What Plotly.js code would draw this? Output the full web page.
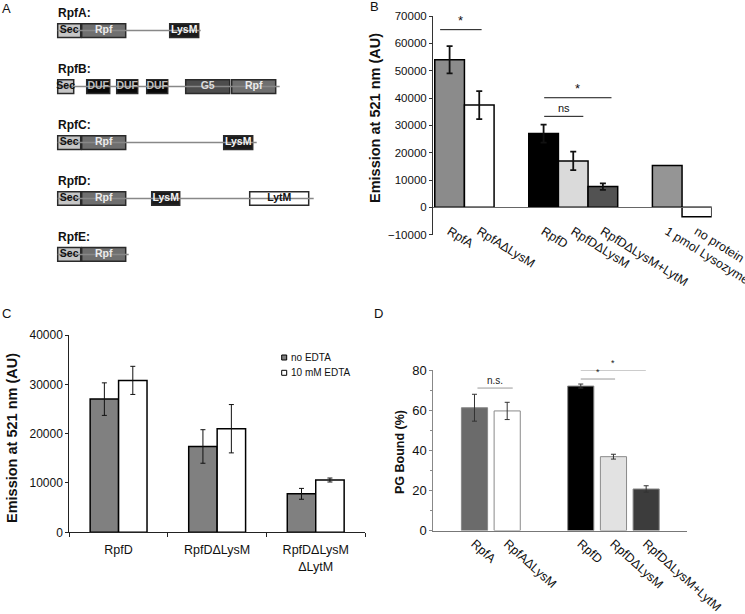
<!DOCTYPE html>
<html><head><meta charset="utf-8">
<script src="https://cdn.plot.ly/plotly-3.0.1.min.js"></script>
<style>html,body{margin:0;padding:0;background:#fff}#chart{width:745px;height:614px}</style>
</head><body><div id="chart"></div>
<script>
// ---------- Panel A: domain architecture ----------
const proteins = ['RpfA:', 'RpfB:', 'RpfC:', 'RpfD:', 'RpfE:'];
const proteinLengths = [143, 222, 199, 256, 71];
const domainProtein = [0,0,0, 1,1,1,1,1,1, 2,2,2, 3,3,3,3, 4,4];
const domainNames = ['Sec','Rpf','LysM', 'Sec','DUF','DUF','DUF','G5','Rpf', 'Sec','Rpf','LysM', 'Sec','Rpf','LysM','LytM', 'Sec','Rpf'];
const domainStart = [0,24,112, 0,29,59,89,128,174, 0,24,166, 0,24,94,192, 0,24];
const domainEnd   = [23,68,141, 16,52,80,110,172,218, 23,68,195, 23,68,122,251, 23,68];

// ---------- Panel B ----------
const bCats = ['RpfA','RpfA\u0394LysM','RpfD','RpfD\u0394LysM','RpfD\u0394LysM+LytM','1 pmol Lysozyme','no protein'];
const bGroup = [0,0,1,1,1,2,2];
const bVals = [54000, 37400, 27000, 17000, 7600, 15300, -3400];
const bErr  = [5000, 5100, 3300, 3400, 1200, null, null];
const bSigLabel = ['*', 'ns', '*'];
const bSigY = [65000, 33300, 40100];
const bSigX0 = [-0.32, 3.19, 3.19];
const bSigX1 = [1.08, 4.51, 5.46];

// ---------- Panel C ----------
const cCats = ['RpfD', 'RpfD\u0394LysM', 'RpfD\u0394LysM<br>\u0394LytM'];
const cNoEDTA = [27000, 17400, 7800];
const cNoEDTAErr = [3300, 3400, 1100];
const cEDTA = [30800, 21000, 10600];
const cEDTAErr = [2850, 4900, 400];
const cSeries = ['no EDTA', '10 mM EDTA'];

// ---------- Panel D ----------
const dCats = ['RpfA','RpfA\u0394LysM','RpfD','RpfD\u0394LysM','RpfD\u0394LysM+LytM'];
const dGroup = [0,0,1,1,1];
const dVals = [61.2, 59.6, 72.0, 36.8, 20.7];
const dErr  = [6.7, 4.3, 1.0, 1.2, 1.6];
const dSigLabel = ['n.s.', '*', '*'];
const dSigY = [71, 75.5, 80];
const dSigX0 = [0.09, 3.25, 3.25];
const dSigX1 = [1.17, 4.3, 5.24];

// ---------- styles ----------
const FONT = 'Liberation Sans, Arial, sans-serif';
const W = 745, H = 614;
const px = v => v / W;
const py = v => 1 - v / H;
const domainFill = {Sec:'#c6c6c6', Rpf:'#6f6f6f', LysM:'#1b1b1b', DUF:'#080808', G5:'#4d4d4d', LytM:'#ffffff'};
const domainText = {Sec:'#111111', Rpf:'#ececec', LysM:'#f2f2f2', DUF:'#bdbdbd', G5:'#dddddd', LytM:'#111111'};
const bColors = ['#8b8b8b','#ffffff','#000000','#dadada','#525252','#959595','#ffffff'];
const dColors = ['#6b6b6b','#ffffff','#000000','#e2e2e2','#3c3c3c'];

const bPos = bCats.map((c, i) => i + bGroup[i] * 1.17);
const dPos = dCats.map((c, i) => i + dGroup[i] * 1.25);

const traces = [];

// Panel A backbone lines
const bbX = [], bbY = [];
proteins.forEach((p, i) => { bbX.push(0, proteinLengths[i], null); bbY.push(i, i, null); });
traces.push({type:'scatter', mode:'lines', x: bbX, y: bbY, xaxis:'x4', yaxis:'y4',
  line:{color:'#888888', width:1.5}, showlegend:false, hoverinfo:'skip'});
// Panel A domain boxes
traces.push({type:'bar', orientation:'h', xaxis:'x4', yaxis:'y4',
  y: domainProtein, base: domainStart, x: domainStart.map((s, i) => domainEnd[i] - s),
  width: 0.245,
  marker:{color: domainNames.map(n => domainFill[n]), line:{color:'#2a2a2a', width:1.5}},
  showlegend:false, hoverinfo:'skip'});
traces.push({type:'scatter', mode:'text', xaxis:'x4', yaxis:'y4',
  x: domainStart.map((s, i) => (s + domainEnd[i]) / 2), y: domainProtein,
  text: domainNames, textposition:'middle center',
  textfont:{family:FONT, size:10.5, weight:'bold', color: domainNames.map(n => domainText[n])},
  showlegend:false, hoverinfo:'skip'});

// Panel B
traces.push({type:'bar', x: bPos, y: bVals, width: 1, xaxis:'x', yaxis:'y',
  marker:{color: bColors, line:{color:'#000', width:1.5}},
  error_y:{type:'data', array: bErr.map(v => v === null ? NaN : v), visible:true, color:'#111', thickness:1.8, width:3},
  showlegend:false, hoverinfo:'skip'});
bSigY.forEach((y, i) => traces.push({type:'scatter', mode:'lines', xaxis:'x', yaxis:'y',
  x:[bSigX0[i], bSigX1[i]], y:[y, y], line:{color:'#111', width:1}, showlegend:false, hoverinfo:'skip'}));

// Panel C
traces.push({type:'bar', name: cSeries[0], x: cCats, y: cNoEDTA, xaxis:'x2', yaxis:'y2',
  marker:{color:'#808080', line:{color:'#000', width:1.5}},
  error_y:{type:'data', array: cNoEDTAErr, color:'#111', thickness:1, width:2.5},
  showlegend:false, hoverinfo:'skip'});
traces.push({type:'bar', name: cSeries[1], x: cCats, y: cEDTA, xaxis:'x2', yaxis:'y2',
  marker:{color:'#ffffff', line:{color:'#000', width:1.5}},
  error_y:{type:'data', array: cEDTAErr, color:'#111', thickness:1, width:2.5},
  showlegend:false, hoverinfo:'skip'});

// Panel D
traces.push({type:'bar', x: dPos, y: dVals, width: 0.8, xaxis:'x3', yaxis:'y3',
  marker:{color: dColors, line:{color:'#8a8a8a', width:1}},
  error_y:{type:'data', array: dErr, color:'#333', thickness:1, width:2.5},
  showlegend:false, hoverinfo:'skip'});
dSigY.forEach((y, i) => traces.push({type:'scatter', mode:'lines', xaxis:'x3', yaxis:'y3',
  x:[dSigX0[i], dSigX1[i]], y:[y, y], line:{color:'#9a9a9a', width:1}, showlegend:false, hoverinfo:'skip'}));

// ---------- layout ----------
const bY = [py(234.7), py(16)];
const bRange = [-10000, 70000];
const bZeroPos = bY[0] + (0 - bRange[0]) / (bRange[1] - bRange[0]) * (bY[1] - bY[0]);

const annotations = [];
const letter = (t, x, y) => annotations.push({text:t, xref:'paper', yref:'paper', x:px(x), y:py(y),
  xanchor:'center', yanchor:'middle', showarrow:false, font:{family:FONT, size:13, color:'#111'}});
letter('A', 7, 8); letter('B', 374, 6); letter('C', 7, 313); letter('D', 378, 313);

const ytitle = (t, x, y, size) => annotations.push({text:'<b>' + t + '</b>', xref:'paper', yref:'paper',
  x:px(x), y:py(y), xanchor:'center', yanchor:'middle', textangle:-90, showarrow:false,
  font:{family:FONT, size:size, color:'#111'}});
ytitle('Emission at 521 nm (AU)', 375, 118, 14.5);
ytitle('Emission at 521 nm (AU)', 12, 438, 14.5);
ytitle('PG Bound (%)', 400, 452, 12.5);

proteins.forEach((p, i) => annotations.push({text:'<b>' + p + '</b>', xref:'x4', yref:'y4', x:0, y:i,
  xanchor:'left', yanchor:'middle', xshift:-2, yshift:17.5, showarrow:false,
  font:{family:FONT, size:12, color:'#111'}}));

bSigLabel.forEach((t, i) => annotations.push({text:t, xref:'x', yref:'y', x:(bSigX0[i] + bSigX1[i]) / 2, y:bSigY[i],
  xanchor:'center', yanchor:'bottom', showarrow:false, font:{family:FONT, size: t === '*' ? 13 : 11, color:'#111'}}));
dSigLabel.forEach((t, i) => annotations.push({text:t, xref:'x3', yref:'y3', x:(dSigX0[i] + dSigX1[i]) / 2, y:dSigY[i],
  xanchor:'center', yanchor:'bottom', showarrow:false, font:{family:FONT, size: t === '*' ? 9 : 10, color:'#222'}}));

// legend for C (manual, small swatches)
const shapes = [];
const legColors = ['#808080', '#ffffff'];
cSeries.forEach((s, i) => {
  const yc = 357.5 + i * 15.3;
  shapes.push({type:'rect', xref:'paper', yref:'paper', x0:px(281.7), x1:px(286.7), y0:py(yc + 2.5), y1:py(yc - 2.5),
    fillcolor: legColors[i], line:{color:'#000', width:1}});
  annotations.push({text:s, xref:'paper', yref:'paper', x:px(288.5), y:py(yc), xanchor:'left', yanchor:'middle',
    showarrow:false, font:{family:FONT, size:10, color:'#111'}});
});

const axBase = {showgrid:false, zeroline:false, fixedrange:true, tickfont:{family:FONT, size:11, color:'#111'}};

const layout = {
  width: W, height: H, margin:{l:0, r:0, t:0, b:0}, paper_bgcolor:'#fff', plot_bgcolor:'rgba(0,0,0,0)',
  font:{family:FONT, color:'#111'}, showlegend:false, barmode:'group', bargap:0.423, bargroupgap:0,
  // Panel B
  xaxis: Object.assign({}, axBase, {domain:[px(433), px(711.7)], anchor:'free', position:bZeroPos,
    range:[-0.56, 8.84], tickmode:'array', tickvals:bPos, ticktext:bCats, tickangle:32,
    ticklabeloverflow:'allow', ticklabelstandoff:11,
    showline:true, linecolor:'#666', linewidth:1, ticks:'', tickfont:{family:FONT, size:12.5, color:'#111'}}),
  yaxis: Object.assign({}, axBase, {domain:bY, anchor:'x', range:bRange, dtick:10000, tickformat:'d',
    showline:true, linecolor:'#333', linewidth:1, ticks:'outside', ticklen:3, tickcolor:'#333',
    tickfont:{family:FONT, size:11.5, color:'#111'}, position:px(433)}),
  // Panel C
  xaxis2: Object.assign({}, axBase, {domain:[px(69.3), px(365)], anchor:'y2', type:'category', range:[-0.5, 2.5],
    showline:true, linecolor:'#222', linewidth:1, ticks:'outside', ticklen:4, tickcolor:'#222', tickson:'boundaries',
    ticklabelstandoff:6, tickfont:{family:FONT, size:12.5, color:'#111'}}),
  yaxis2: Object.assign({}, axBase, {domain:[py(532.3), py(335)], anchor:'x2', range:[0, 40000], dtick:10000, tickformat:'d',
    showline:true, linecolor:'#222', linewidth:1, ticks:'outside', ticklen:3, tickcolor:'#222',
    tickfont:{family:FONT, size:12, color:'#111'}}),
  // Panel D
  xaxis3: Object.assign({}, axBase, {domain:[px(433.3), px(686.7)], anchor:'y3', range:[-1.26, 6.49],
    tickmode:'array', tickvals:dPos, ticktext:dCats, tickangle:42, ticklabeloverflow:'allow',
    showline:true, linecolor:'#777', linewidth:1,
    ticks:'', tickfont:{family:FONT, size:12.5, color:'#111'}}),
  yaxis3: Object.assign({}, axBase, {domain:[py(530.5), py(370)], anchor:'x3', range:[0, 80], dtick:20,
    showline:true, linecolor:'#888', linewidth:1, ticks:'outside', ticklen:3, tickcolor:'#888',
    minor:{dtick:10, ticks:'outside', ticklen:2, tickcolor:'#888'},
    tickfont:{family:FONT, size:13, color:'#111'}}),
  // Panel A (hidden axes)
  xaxis4: {domain:[0, px(370)], anchor:'y4', range:[-57.7, 312.3], visible:false, fixedrange:true},
  yaxis4: {domain:[py(300), 1], anchor:'x4', range:[4.814, -0.547], visible:false, fixedrange:true},
  annotations: annotations, shapes: shapes
};

Plotly.newPlot('chart', traces, layout, {staticPlot:true, displayModeBar:false});
</script>
</body></html>
